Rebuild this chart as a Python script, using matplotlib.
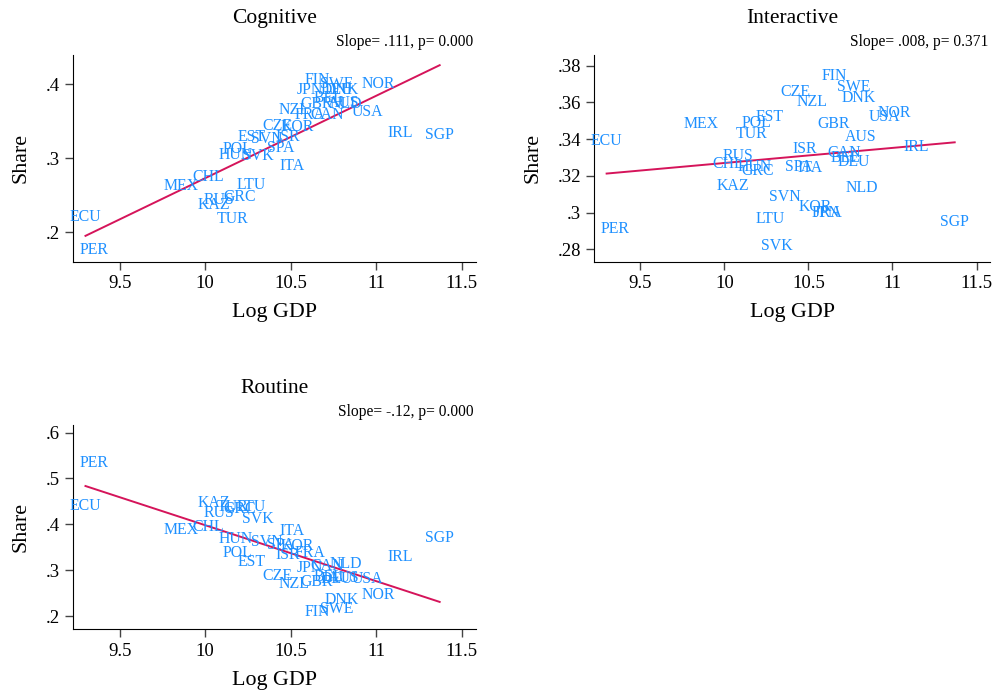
import numpy as np
import matplotlib
matplotlib.use("Agg")
import matplotlib.pyplot as plt

plt.rcParams['font.family'] = ['Liberation Serif', 'DejaVu Serif']

# paises y log del PIB
paises = ["ECU", "PER", "MEX", "CHL", "RUS", "KAZ", "TUR", "GRC", "HUN", "POL",
          "EST", "LTU", "SVN", "SVK", "CZE", "ISR", "SPA", "ITA", "KOR", "NZL",
          "JPN", "FRA", "GBR", "CAN", "BEL", "DEU", "AUS", "NLD", "DNK", "FIN",
          "SWE", "USA", "NOR", "IRL", "SGP"]
log_gdp = [9.30, 9.35, 9.86, 10.02, 10.08, 10.05, 10.16, 10.20, 10.18, 10.19,
           10.27, 10.27, 10.36, 10.31, 10.42, 10.48, 10.44, 10.51, 10.54, 10.52,
           10.61, 10.61, 10.65, 10.71, 10.72, 10.77, 10.81, 10.82, 10.80, 10.655,
           10.77, 10.95, 11.01, 11.14, 11.37]

cognitive = [.220, .176, .262, .275, .244, .237, .218, .248, .305, .313,
             .329, .264, .326, .303, .343, .329, .314, .289, .342, .365,
             .392, .358, .373, .359, .381, .392, .375, .373, .392, .406,
             .400, .363, .400, .334, .332]
interactive = [.339, .291, .348, .3265, .331, .3147, .3427, .3227, .3247, .3487,
               .352, .2967, .3084, .2815, .3658, .3349, .325, .3245, .3032, .3605,
               .300, .300, .348, .3323, .3297, .3278, .3414, .3133, .3627, .3742,
               .3684, .352, .3545, .3356, .2946]
routine = [.440, .533, .3876, .395, .424, .447, .4386, .433, .3688, .338,
           .3177, .4386, .361, .4124, .287, .3323, .356, .3855, .3527, .271,
           .3054, .338, .274, .309, .285, .281, .283, .3127, .2345, .2095,
           .2163, .2814, .245, .3286, .371]

xticks = [9.5, 10, 10.5, 11, 11.5]
xtick_labels = ["9.5", "10", "10.5", "11", "11.5"]

paneles = [
    ("Cognitive", cognitive, "Slope= .111, p= 0.000",
     [.2, .3, .4], [".2", ".3", ".4"], (0.16, 0.44)),
    ("Interactive", interactive, "Slope= .008, p= 0.371",
     [.28, .3, .32, .34, .36, .38], [".28", ".3", ".32", ".34", ".36", ".38"], (0.2732, 0.386)),
    ("Routine", routine, "Slope= -.12, p= 0.000",
     [.2, .3, .4, .5, .6], [".2", ".3", ".4", ".5", ".6"], (0.171, 0.617)),
]
posiciones = [[0.073, 0.623, 0.405, 0.298],
              [0.597, 0.623, 0.398, 0.298],
              [0.073, 0.093, 0.405, 0.295]]

azul = "#1E90FF"
rojo = "#D5145A"

fig = plt.figure(figsize=(9.95, 6.94), dpi=100)
x = np.array(log_gdp)
for (titulo, valores, texto, yt, ytl, ylim), pos in zip(paneles, posiciones):
    ax = fig.add_axes(pos)
    y = np.array(valores)
    for nombre, xi, yi in zip(paises, x, y):
        ax.text(xi, yi, nombre, color=azul, fontsize=11.4, ha="center", va="center")
    b, a = np.polyfit(x, y, 1)
    xs = np.array([x.min(), x.max()])
    ax.plot(xs, a + b * xs, color=rojo, lw=1.4)
    ax.set_xlim(9.225, 11.58)
    ax.set_ylim(*ylim)
    ax.set_xticks(xticks)
    ax.set_xticklabels(xtick_labels)
    ax.set_yticks(yt)
    ax.set_yticklabels(ytl)
    ax.tick_params(labelsize=13.5, length=6, width=1, colors="#444444", labelcolor="black")
    ax.spines["top"].set_visible(False)
    ax.spines["right"].set_visible(False)
    ax.set_xlabel("Log GDP", fontsize=15.8, labelpad=8)
    ax.set_ylabel("Share", fontsize=15.8, labelpad=11)
    ax.text(0.995, 1.06, texto, transform=ax.transAxes, ha="right", va="center", fontsize=11.2)
    ax.set_title(titulo, fontsize=15.5, pad=23)

fig.savefig("out.png", dpi=100)
